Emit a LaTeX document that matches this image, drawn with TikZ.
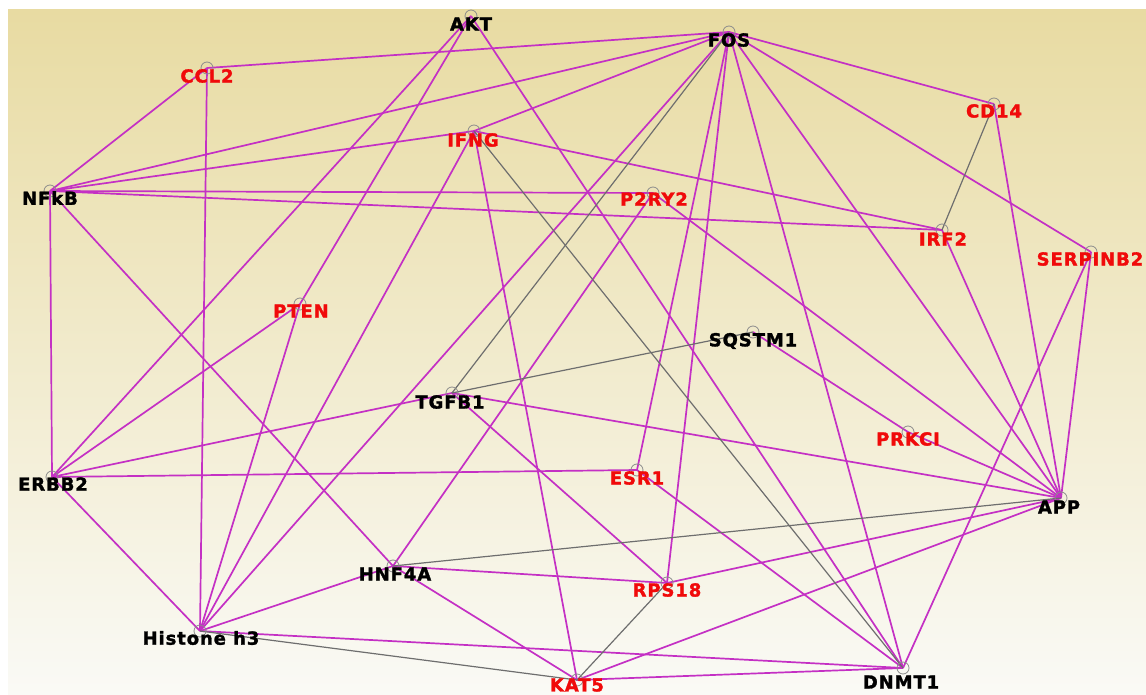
\documentclass[tikz,border=0pt]{standalone}
\usepackage{fontspec}
\setmainfont{DejaVu Sans}
\newfontfamily\lblfont[LetterSpace=5,FakeBold=1.6]{DejaVu Sans Bold}
\definecolor{bgtop}{RGB}{232,219,162}
\definecolor{bgmid}{RGB}{244,238,212}
\definecolor{bgbot}{RGB}{250,250,246}
\definecolor{edgepink}{RGB}{196,48,196}
\definecolor{edgegray}{RGB}{110,110,110}
\definecolor{lblred}{RGB}{240,10,10}
\pgfdeclarelayer{bg}
\pgfdeclarelayer{edges}
\pgfsetlayers{bg,edges,main}
\tikzset{
  gdot/.style={circle,draw=gray!90,line width=0.8pt,minimum size=12pt,inner sep=0pt},
  lbl/.style={font=\lblfont\fontsize{18}{18}\selectfont,inner sep=0pt,anchor=center},
  rl/.style={lbl,text=lblred},
  bl/.style={lbl,text=black},
  pe/.style={draw=edgepink,line width=1.7pt},
  ge/.style={draw=edgegray,line width=1.2pt}
}
\begin{document}
\begin{tikzpicture}[x=1pt,y=-1pt]
\useasboundingbox (0,0) rectangle (1146,695);
\begin{pgfonlayer}{bg}
\fill[white] (0,0) rectangle (1146,695);
\shade[top color=bgtop,middle color=bgmid,bottom color=bgbot] (8,10) rectangle (1146,695);
\end{pgfonlayer}
% node markers
\node[gdot] (akt) at (471,16) {};
\node[gdot] (fos) at (729,32) {};
\node[gdot] (ccl2) at (207,68) {};
\node[gdot] (cd14) at (994,104) {};
\node[gdot] (ifng) at (474,131) {};
\node[gdot] (nfkb) at (50,191) {};
\node[gdot] (p2ry2) at (653,193) {};
\node[gdot] (irf2) at (942,230) {};
\node[gdot] (serp) at (1091,252) {};
\node[gdot] (pten) at (300,304) {};
\node[gdot] (sqstm1) at (753,332) {};
\node[gdot] (tgfb1) at (452,393) {};
\node[gdot] (prkci) at (908,432) {};
\node[gdot] (esr1) at (637,470) {};
\node[gdot] (erbb2) at (52,477) {};
\node[gdot] (app) at (1061,498) {};
\node[gdot] (hnf4a) at (393,566) {};
\node[gdot] (rps18) at (667,583) {};
\node[gdot] (hist) at (200,631) {};
\node[gdot] (kat5) at (577,680) {};
\node[gdot] (dnmt1) at (903,668) {};
% edges
\begin{pgfonlayer}{edges}
\foreach \a/\b in {ccl2/fos,ccl2/nfkb,ccl2/hist,akt/erbb2,akt/pten,akt/dnmt1,
  fos/nfkb,fos/ifng,fos/cd14,fos/serp,fos/app,fos/dnmt1,fos/rps18,fos/esr1,fos/hist,
  nfkb/ifng,nfkb/p2ry2,nfkb/irf2,nfkb/erbb2,nfkb/hnf4a,
  ifng/irf2,ifng/hist,ifng/kat5,cd14/app,irf2/app,serp/app,serp/dnmt1,
  p2ry2/app,p2ry2/hnf4a,pten/erbb2,pten/hist,sqstm1/prkci,prkci/app,
  tgfb1/erbb2,tgfb1/app,tgfb1/rps18,esr1/erbb2,esr1/dnmt1,erbb2/hist,
  hnf4a/hist,hnf4a/rps18,hnf4a/kat5,rps18/app,hist/dnmt1,kat5/app,kat5/dnmt1}
  \draw[pe] (\a.center) -- (\b.center);
\foreach \a/\b in {fos/tgfb1,ifng/dnmt1,cd14/irf2,sqstm1/tgfb1,hnf4a/app,rps18/kat5,hist/kat5}
  \draw[ge] (\a.center) -- (\b.center);
\end{pgfonlayer}
% labels
\node[bl] (aktL) at (471,24) {AKT};
\node[bl] (fosL) at (729,40) {FOS};
\node[rl] (ccl2L) at (207,76) {CCL2};
\node[rl] (cd14L) at (994,111) {CD14};
\node[rl] (ifngL) at (473,140) {IFNG};
\node[bl] (nfkbL) at (50,198) {NFkB};
\node[rl] (p2ry2L) at (654,199) {P2RY2};
\node[rl] (irf2L) at (943,239) {IRF2};
\node[rl] (serpL) at (1090,259) {SERPINB2};
\node[rl] (ptenL) at (301,311) {PTEN};
\node[bl] (sqstm1L) at (753,341) {SQSTM1};
\node[bl] (tgfb1L) at (450,402) {TGFB1};
\node[rl] (prkciL) at (908,439) {PRKCI};
\node[rl] (esr1L) at (637,478) {ESR1};
\node[bl] (erbb2L) at (53,484) {ERBB2};
\node[bl] (appL) at (1059,507) {APP};
\node[bl] (hnf4aL) at (395,574) {HNF4A};
\node[rl] (rps18L) at (667,590) {RPS18};
\node[bl] (histL) at (201,638) {Histone h3};
\node[rl] (kat5L) at (577,685) {KAT5};
\node[bl] (dnmt1L) at (901,682) {DNMT1};
\end{tikzpicture}
\end{document}
